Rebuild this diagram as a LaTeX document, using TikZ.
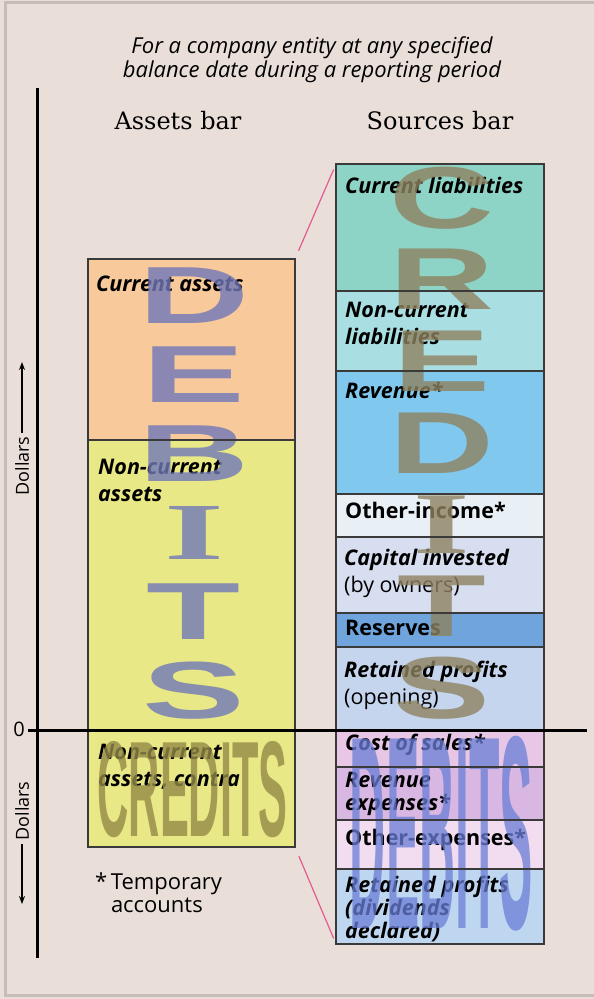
\documentclass[tikz,border=0pt]{standalone}
\usepackage{fontspec}
\setmainfont{DejaVu Serif}
\newfontfamily\gill{Open Sans}
\newfontfamily\wmsans{Liberation Sans}
\newfontfamily\wmserif{Liberation Serif}
\usetikzlibrary{positioning,arrows.meta,calc}

\definecolor{paper}{HTML}{E9DFD8}
\definecolor{framegray}{HTML}{C6BDB6}
\definecolor{segline}{HTML}{3A3A3A}
\definecolor{curac}{HTML}{F8C99A}
\definecolor{ncurac}{HTML}{E9E886}
\definecolor{curlc}{HTML}{8ED4C6}
\definecolor{nclc}{HTML}{A9DEE2}
\definecolor{revc}{HTML}{80C8EE}
\definecolor{oincc}{HTML}{E8F0F6}
\definecolor{capc}{HTML}{D6DEF0}
\definecolor{resc}{HTML}{6FA5DC}
\definecolor{rpoc}{HTML}{C5D5EE}
\definecolor{cosc}{HTML}{E8C6E6}
\definecolor{rexpc}{HTML}{D8B8E2}
\definecolor{oexpc}{HTML}{F2DCF0}
\definecolor{rpdc}{HTML}{BFD6F0}
\definecolor{pinkc}{HTML}{E45A93}
\definecolor{debc}{HTML}{6F78B8}
\definecolor{credc}{HTML}{8E8260}
\definecolor{credhc}{HTML}{948A48}
\definecolor{debhc}{HTML}{6A7ED6}

\newcommand\labfont{\gill\bfseries\itshape\fontsize{21.5}{27}\selectfont}
\newcommand\plain[1]{{\upshape\mdseries #1}}

\begin{document}
\begin{tikzpicture}[x=1pt,y=-1pt,
    seg/.style={rectangle, inner sep=0pt, outer sep=0pt, minimum width=208pt},
    lab/.style={inner sep=0pt, align=left, font=\labfont},
    labtight/.style={lab, font=\gill\bfseries\itshape\fontsize{21.5}{23}\selectfont},
    wmdeb/.style={inner sep=0pt, text=debc, opacity=0.8, font=\wmsans\bfseries\fontsize{81}{81}\selectfont},
    wmcred/.style={inner sep=0pt, text=credc, opacity=0.8, font=\wmsans\bfseries\fontsize{88}{88}\selectfont},
    axis/.style={line width=3pt, black},
    pinkline/.style={pinkc, line width=1.2pt}]

  \useasboundingbox (0,0) rectangle (594,999);
  \fill[paper] (0,0) rectangle (594,999);
  \draw[framegray, line width=3pt] (5.5,2) rectangle (600,995);

  % Title and bar headings
  \node[font=\gill\itshape\fontsize{22}{24}\selectfont, align=center] (title) at (312,60) {For a company entity at any specified\\balance date during a reporting period};
  \node[font=\fontsize{24}{24}\selectfont] (abar) at (178,121) {Assets bar};
  \node[font=\fontsize{24}{24}\selectfont] (sbar) at (440,121) {Sources bar};

  % Assets bar
  \node[seg, minimum width=207pt, fill=curac, minimum height=181pt, anchor=north west] (cura) at (88,259) {};
  \node[seg, minimum width=207pt, fill=ncurac, minimum height=290pt, below=0pt of cura] (ncura) {};
  \node[seg, minimum width=207pt, fill=ncurac, minimum height=117pt, below=0pt of ncura] (contra) {};

  % Sources bar
  \node[seg, fill=curlc, minimum height=127pt, anchor=north west] (curl) at (336,164) {};
  \node[seg, fill=nclc, minimum height=80pt, below=0pt of curl] (ncl) {};
  \node[seg, fill=revc, minimum height=123pt, below=0pt of ncl] (rev) {};
  \node[seg, fill=oincc, minimum height=43pt, below=0pt of rev] (oinc) {};
  \node[seg, fill=capc, minimum height=76pt, below=0pt of oinc] (cap) {};
  \node[seg, fill=resc, minimum height=34pt, below=0pt of cap] (res) {};
  \node[seg, fill=rpoc, minimum height=83pt, below=0pt of res] (rpo) {};
  \node[seg, fill=cosc, minimum height=37pt, below=0pt of rpo] (cos) {};
  \node[seg, fill=rexpc, minimum height=53pt, below=0pt of cos] (rexp) {};
  \node[seg, fill=oexpc, minimum height=49pt, below=0pt of rexp] (oexp) {};
  \node[seg, fill=rpdc, minimum height=75pt, below=0pt of oexp] (rpd) {};

  % Labels
  \node[lab, below right=17pt and 8pt of cura.north west] (curalab) {Current assets};
  \node[lab, below right=19pt and 10pt of ncura.north west] (ncuralab) {Non-current\\assets};
  \node[lab, below right=14pt and 10pt of contra.north west] (contralab) {Non-current\\assets, contra};
  \node[lab, below right=13pt and 9pt of curl.north west] (curllab) {Current liabilities};
  \node[lab, below right=11pt and 9pt of ncl.north west] (ncllab) {Non-current\\liabilities};
  \node[lab, below right=11pt and 9pt of rev.north west] (revlab) {Revenue*};
  \node[lab, below right=8pt and 9pt of oinc.north west] (oinclab) {\plain{\bfseries Other-income*}};
  \node[lab, below right=12pt and 8pt of cap.north west] (caplab) {Capital invested\\\plain{(by owners)}};
  \node[lab, below right=7pt and 9pt of res.north west] (reslab) {\plain{\bfseries Reserves}};
  \node[lab, below right=14pt and 8pt of rpo.north west] (rpolab) {Retained profits\\\plain{(opening)}};
  \node[lab, below right=4pt and 9pt of cos.north west] (coslab) {Cost of sales*};
  \node[labtight, below right=5pt and 9pt of rexp.north west] (rexplab) {Revenue\\expenses*};
  \node[lab, below right=9pt and 9pt of oexp.north west] (oexplab) {\plain{\bfseries Other-expenses*}};
  \node[labtight, below right=7pt and 9pt of rpd.north west] (rpdlab) {Retained profits\\(dividends\\declared)};

  % Watermarks
  \foreach \l [count=\i] in {D,E,B,{\wmserif I},T,S}
    \node[wmdeb] (deb\i) at (194,{296+79*(\i-1)}) {\scalebox{1.9}[1]{\l}};
  \foreach \l [count=\i] in {C,R,E,D,{\wmserif I},T,S}
    \node[wmcred] (cred\i) at (442,{198+81.7*(\i-1)}) {\scalebox{1.65}[1]{\l}};
  \node[inner sep=0pt, text=credhc, opacity=0.8] (credh) at (192.5,789.5) {\resizebox{190pt}{95pt}{\wmsans\bfseries CREDITS}};
  \node[inner sep=0pt, text=debhc, opacity=0.75] (debh) at (441.5,834) {\resizebox{183pt}{192pt}{\wmsans\bfseries DEBITS}};

  % Bar outlines
  \foreach \n in {cura,ncura,contra,curl,ncl,rev,oinc,cap,res,rpo,cos,rexp,oexp,rpd}
    \draw[segline, line width=1.4pt] (\n.north west) rectangle (\n.south east);

  % Axes
  \coordinate (ytop) at (37,88);
  \coordinate (ybot) at (37,958);
  \coordinate (xl) at (28,730);
  \coordinate (xr) at (587,730);
  \draw[axis] (ytop) -- (ybot);
  \draw[axis] (xl) -- (xr);
  \node[font=\gill\fontsize{20}{20}\selectfont] (zero) at (19,729) {0};

  \node[rotate=90, font=\gill\fontsize{18}{18}\selectfont] (dolup) at (22,466) {Dollars};
  \coordinate (dolupend) at (22,362);
  \draw[-{Stealth[length=8pt,width=6pt]}, line width=1.3pt] (dolup.east) -- (dolupend);
  \node[rotate=90, font=\gill\fontsize{18}{18}\selectfont] (doldn) at (22,811) {Dollars};
  \coordinate (doldnend) at (22,904);
  \draw[-{Stealth[length=8pt,width=6pt]}, line width=1.3pt] (doldn.west) -- (doldnend);

  % Links between bars
  \draw[pinkline, shorten <=9pt, shorten >=6pt] (cura.north east) -- (curl.north west);
  \draw[pinkline, shorten <=10pt, shorten >=6pt] (contra.south east) -- (rpd.south west);

  % Footnote
  \node[font=\gill\fontsize{22}{23}\selectfont, align=left, anchor=north west, inner sep=0pt] (temp) at (95,873) {*\,Temporary\\\phantom{*\,}accounts};
\end{tikzpicture}
\end{document}
